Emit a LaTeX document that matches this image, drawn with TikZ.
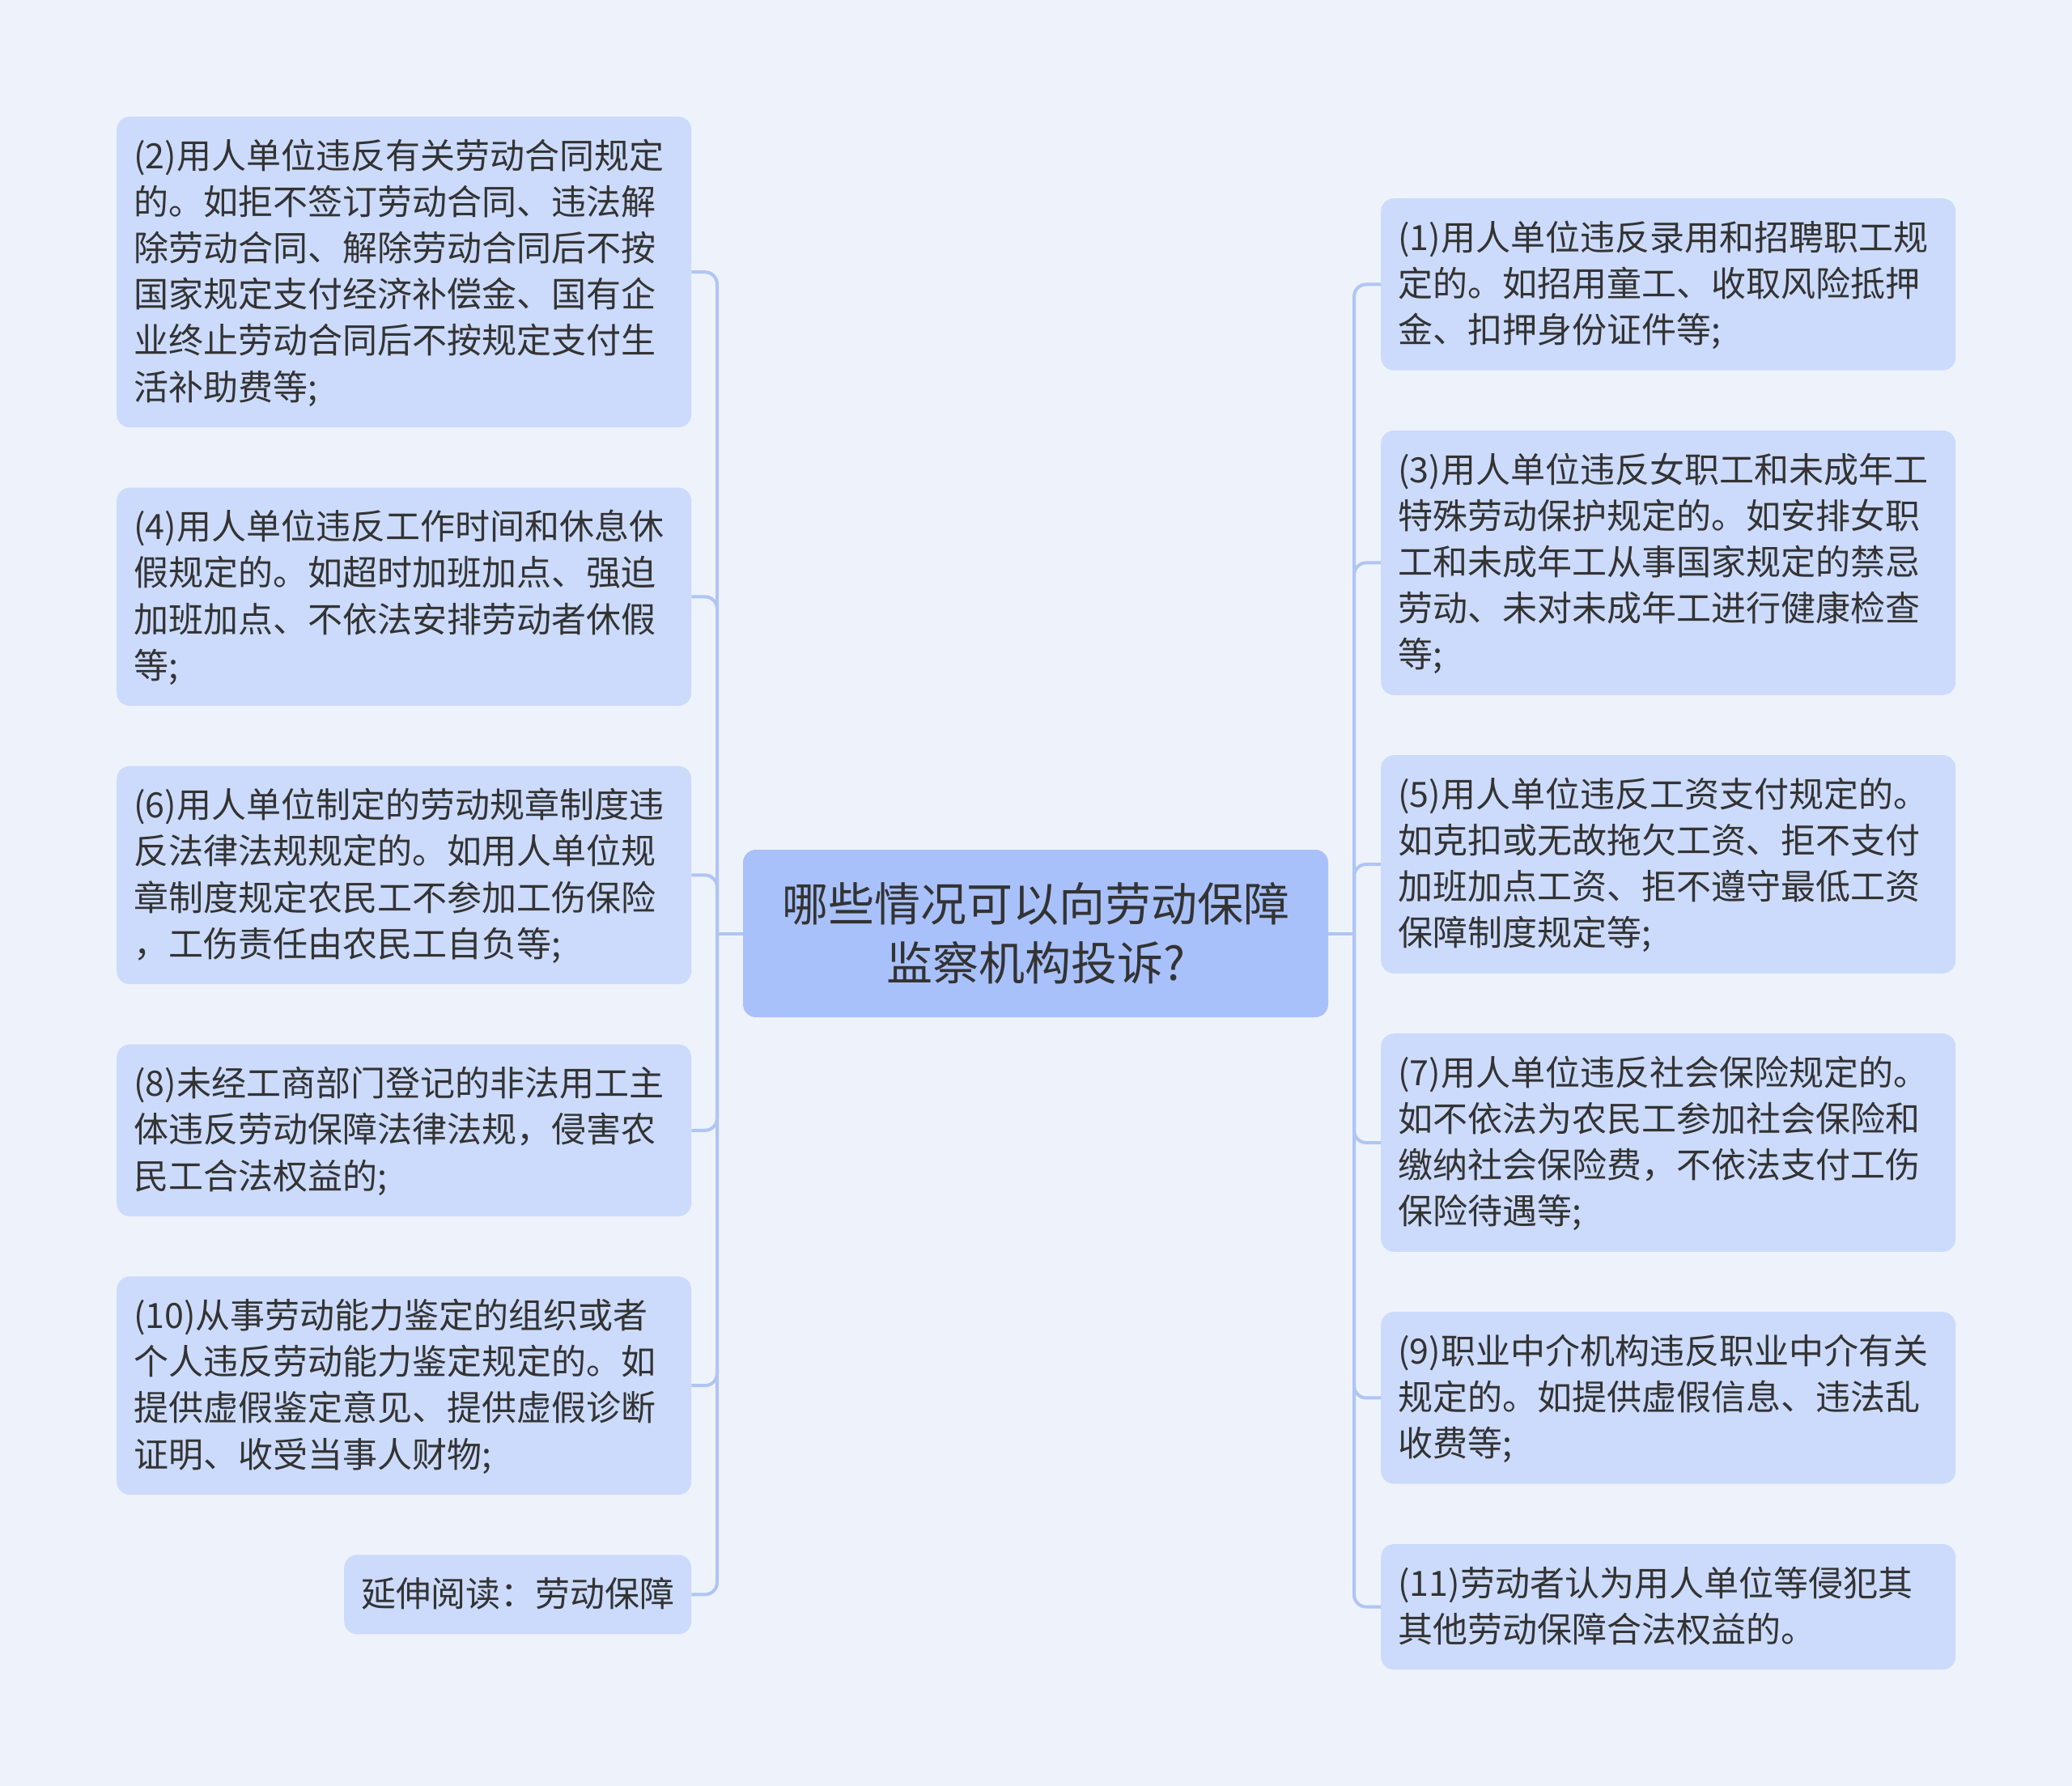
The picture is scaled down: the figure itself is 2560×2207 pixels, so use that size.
\documentclass[tikz,border=0pt]{standalone}
\usepackage{fontspec}
\newfontfamily\cjk{Noto Sans CJK SC}
\usetikzlibrary{positioning}
\definecolor{bgcol}{HTML}{EEF2FB}
\definecolor{leafcol}{HTML}{CCDBFB}
\definecolor{rootcol}{HTML}{A9C1FA}
\definecolor{linecol}{HTML}{AFC5F4}
\definecolor{txtcol}{HTML}{333333}
\newcommand{\lstrut}{\rule[-9pt]{0pt}{48pt}}

\begin{document}
\begin{tikzpicture}[x=1pt,y=-1pt,node distance=74pt,
		link/.style={draw=linecol,line width=4pt,rounded corners=15pt}]
		\tikzstyle{leaf}=[fill=leafcol,rounded corners=16pt,text=txtcol,inner xsep=21pt,inner ysep=25pt,
		font=\cjk\fontsize{43}{57.2}\selectfont,execute at begin node=\lstrut,execute at end node=\lstrut]
		\tikzstyle{para}=[leaf,text width=668pt,align=left]
		\tikzstyle{topic}=[fill=rootcol,rounded corners=16pt,text=txtcol,minimum width=723pt,minimum height=207pt,
		align=center,font=\cjk\fontsize{57}{73.5}\selectfont]
		
		\fill[bgcol] (0,0) rectangle (2560,2207);
		
		\node[topic]                      (Q)   at (1279.5,1153.5) {哪些情况可以向劳动保障\\监察机构投诉?};
		
		% left side
		\node[para,anchor=north west]     (L_2) at (144,144) {(2)用人单位违反有关劳动合同规定\\的。如拒不签订劳动合同、违法解\\除劳动合同、解除劳动合同后不按\\国家规定支付经济补偿金、国有企\\业终止劳动合同后不按规定支付生\\活补助费等;};
		\node[para]         (L_4)  [below=of L_2]  {(4)用人单位违反工作时间和休息休\\假规定的。如超时加班加点、强迫\\加班加点、不依法安排劳动者休假\\等;};
		\node[para]         (L_6)  [below=of L_4]  {(6)用人单位制定的劳动规章制度违\\反法律法规规定的。如用人单位规\\章制度规定农民工不参加工伤保险\\，工伤责任由农民工自负等;};
		\node[para]         (L_8)  [below=of L_6]  {(8)未经工商部门登记的非法用工主\\体违反劳动保障法律法规，侵害农\\民工合法权益的;};
		\node[para]         (L_10) [below=of L_8]  {(10)从事劳动能力鉴定的组织或者\\个人违反劳动能力鉴定规定的。如\\提供虚假鉴定意见、提供虚假诊断\\证明、收受当事人财物;};
		\node[leaf]         (L_x)  [below=of L_10.south east,anchor=north east] {延伸阅读：劳动保障};
		
		% right side
		\node[para,anchor=north west]     (R_1) at (1706,245) {(1)用人单位违反录用和招聘职工规\\定的。如招用童工、收取风险抵押\\金、扣押身份证件等;};
		\node[para]         (R_3)  [below=of R_1]  {(3)用人单位违反女职工和未成年工\\特殊劳动保护规定的。如安排女职\\工和未成年工从事国家规定的禁忌\\劳动、未对未成年工进行健康检查\\等;};
		\node[para]         (R_5)  [below=of R_3]  {(5)用人单位违反工资支付规定的。\\如克扣或无故拖欠工资、拒不支付\\加班加点工资、拒不遵守最低工资\\保障制度规定等;};
		\node[para]         (R_7)  [below=of R_5]  {(7)用人单位违反社会保险规定的。\\如不依法为农民工参加社会保险和\\缴纳社会保险费，不依法支付工伤\\保险待遇等;};
		\node[para]         (R_9)  [below=of R_7]  {(9)职业中介机构违反职业中介有关\\规定的。如提供虚假信息、违法乱\\收费等;};
		\node[para]         (R_11) [below=of R_9]  {(11)劳动者认为用人单位等侵犯其\\其他劳动保障合法权益的。};
		
		\coordinate (lj) at (886,1153.5);
		\coordinate (rj) at (1673,1153.5);
		\draw[link] (Q.west) -- (lj);
		\draw[link] (Q.east) -- (rj);
		\foreach \n in {L_2,L_4,L_6,L_8,L_10,L_x}
		\draw[link] (lj) |- (\n.east);
		\foreach \n in {R_1,R_3,R_5,R_7,R_9,R_11}
		\draw[link] (rj) |- (\n.west);
		\end{tikzpicture}
\end{document}
